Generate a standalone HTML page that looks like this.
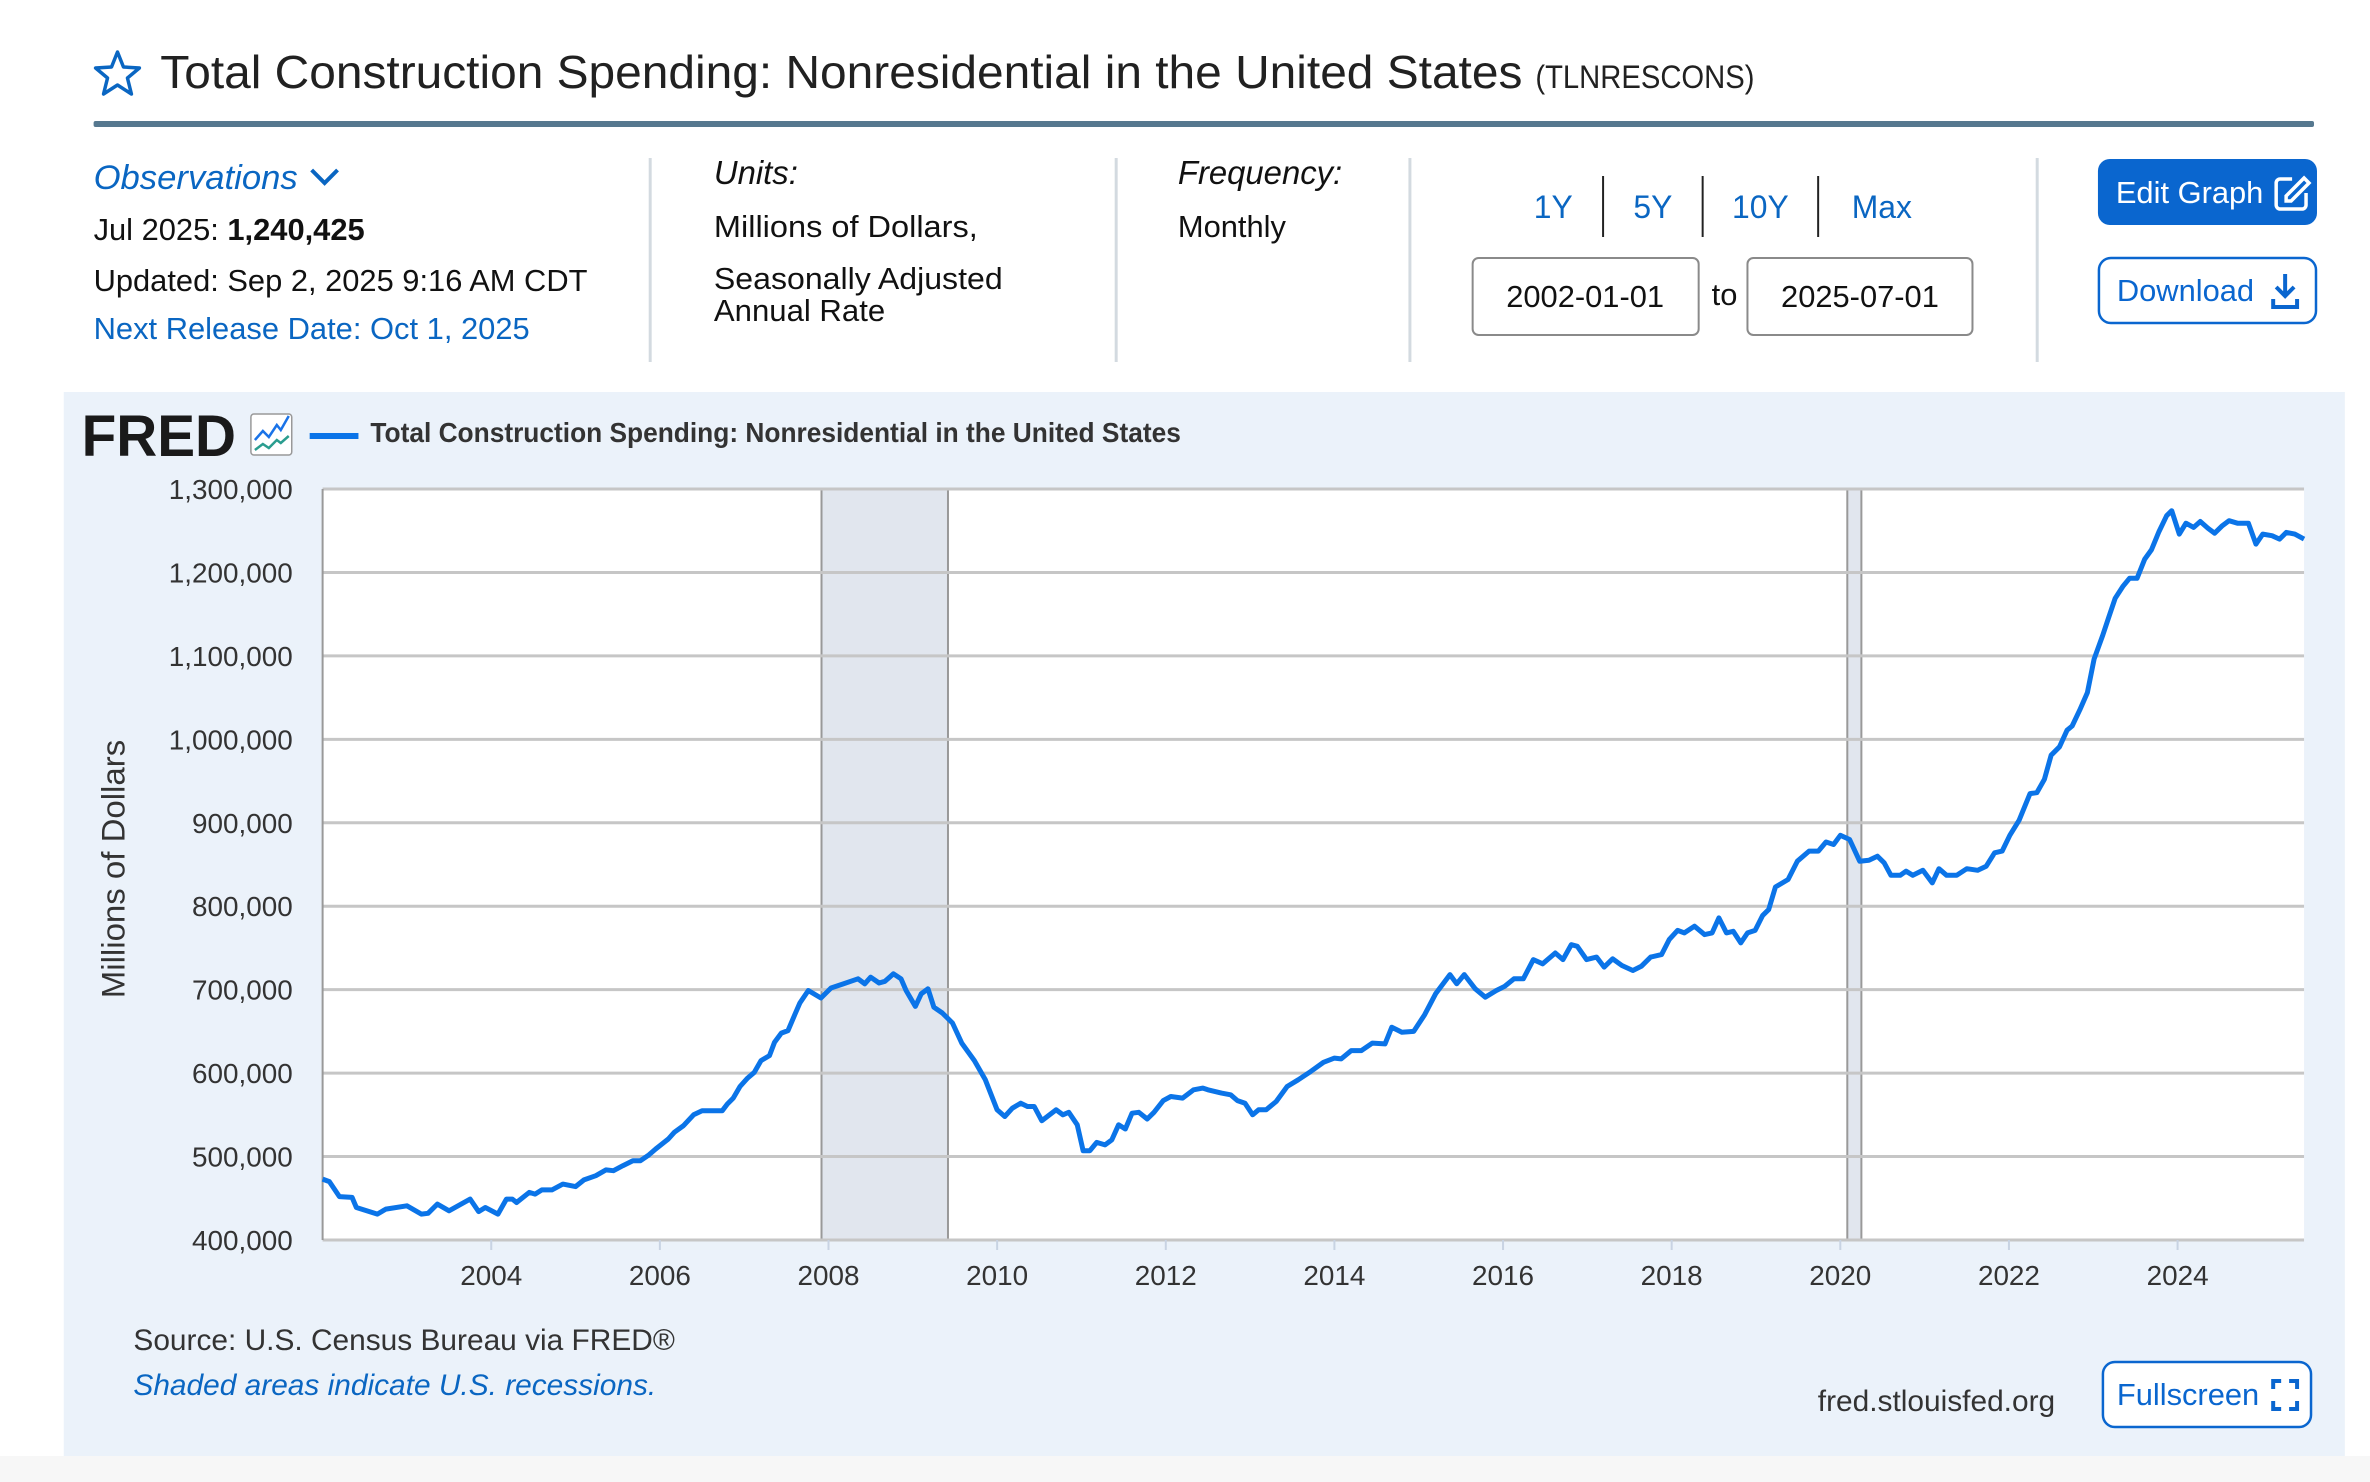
<!DOCTYPE html>
<html><head><meta charset="utf-8"><style>
html,body{margin:0;padding:0;background:#fff;}
svg{display:block;font-family:"Liberation Sans",sans-serif;}
</style></head><body>
<svg id="page" width="2370" height="1482" viewBox="0 0 2370 1482" xmlns="http://www.w3.org/2000/svg">
<rect x="0" y="0" width="2370" height="1482" fill="#fff"/>
<rect x="0" y="1456" width="2370" height="26" fill="#f7f7f7"/>
<g transform="scale(0.9957,1)">
<!-- header -->
<path d="M118,52 L124,67 L140,68 L128,78 L132,94 L118,85 L104,94 L108,78 L96,68 L112,67 Z" fill="none" stroke="#0a66c2" stroke-width="3.5" stroke-linejoin="round"/>
<text x="161" y="88" font-size="46" fill="#212121" textLength="1368" lengthAdjust="spacingAndGlyphs">Total Construction Spending: Nonresidential in the United States</text>
<text x="1542" y="88" font-size="32" fill="#212121" textLength="220" lengthAdjust="spacingAndGlyphs">(TLNRESCONS)</text>
<rect x="94" y="121" width="2230" height="6" rx="2" fill="#56788f"/>

<text x="94" y="189" font-size="34" font-style="italic" fill="#0a66c2" textLength="205" lengthAdjust="spacingAndGlyphs">Observations</text>
<path d="M313,170 L326,183 L339,170" fill="none" stroke="#0a66c2" stroke-width="4"/>
<text x="94" y="240" font-size="31" fill="#111">Jul 2025: <tspan font-weight="bold">1,240,425</tspan></text>
<text x="94" y="291" font-size="31" fill="#111" textLength="496" lengthAdjust="spacingAndGlyphs">Updated: Sep 2, 2025 9:16 AM CDT</text>
<text x="94" y="339" font-size="31" fill="#0a66c2" textLength="438" lengthAdjust="spacingAndGlyphs">Next Release Date: Oct 1, 2025</text>

<g stroke="#d3dae0" stroke-width="3">
<line x1="653" y1="158" x2="653" y2="362"/><line x1="1121" y1="158" x2="1121" y2="362"/><line x1="1416" y1="158" x2="1416" y2="362"/><line x1="2046" y1="158" x2="2046" y2="362"/>
</g>
<text x="717" y="184" font-size="33" font-style="italic" fill="#111">Units:</text>
<text x="717" y="237" font-size="31" fill="#111" textLength="265" lengthAdjust="spacingAndGlyphs">Millions of Dollars,</text>
<text x="717" y="289" font-size="31" fill="#111" textLength="290" lengthAdjust="spacingAndGlyphs">Seasonally Adjusted</text>
<text x="717" y="321" font-size="31" fill="#111" textLength="172" lengthAdjust="spacingAndGlyphs">Annual Rate</text>
<text x="1183" y="184" font-size="33" font-style="italic" fill="#111">Frequency:</text>
<text x="1183" y="237" font-size="31" fill="#111">Monthly</text>

<g font-size="32" fill="#0a66c2" text-anchor="middle">
<text x="1560" y="218">1Y</text>
<text x="1660" y="218">5Y</text>
<text x="1768" y="218">10Y</text>
<text x="1890" y="218">Max</text>
</g>
<g stroke="#222" stroke-width="2">
<line x1="1610" y1="176" x2="1610" y2="237"/><line x1="1710" y1="176" x2="1710" y2="237"/><line x1="1826" y1="176" x2="1826" y2="237"/>
</g>
<rect x="1479" y="258" width="227" height="77" rx="6" fill="#fff" stroke="#8a8a8a" stroke-width="2"/>
<text x="1592" y="307" font-size="31" fill="#111" text-anchor="middle">2002-01-01</text>
<text x="1732" y="305" font-size="31" fill="#111" text-anchor="middle">to</text>
<rect x="1755" y="258" width="226" height="77" rx="6" fill="#fff" stroke="#8a8a8a" stroke-width="2"/>
<text x="1868" y="307" font-size="31" fill="#111" text-anchor="middle">2025-07-01</text>

<g>
<rect x="2107" y="159" width="220" height="66" rx="12" fill="#0a66cf"/>
<text x="2125" y="203" font-size="31" fill="#fff">Edit Graph</text>
<path d="M2302,179 h-12 a4,4 0 0 0 -4,4 v22 a4,4 0 0 0 4,4 h22 a4,4 0 0 0 4,-4 v-12 M2296,196 l18,-18 l5,5 l-18,18 h-5 z" fill="none" stroke="#fff" stroke-width="3.5"/>
</g>
<g>
<rect x="2108" y="258" width="218" height="65" rx="12" fill="#fff" stroke="#0a66cf" stroke-width="2.5"/>
<text x="2126" y="301" font-size="31" fill="#0a66cf">Download</text>
<path d="M2295,274 v22 M2286,287 l9,9 l9,-9 M2283,299 v8 h24 v-8" fill="none" stroke="#0a66cf" stroke-width="4"/>
</g>

<!-- chart panel -->
<rect x="64" y="392" width="2291" height="1064" fill="#ebf2fa"/>
<text x="82" y="456" font-size="58" font-weight="bold" fill="#1a1a1a" textLength="155" lengthAdjust="spacingAndGlyphs">FRED</text>
<g>
<rect x="252" y="414" width="41" height="41" rx="3" fill="#fff" stroke="#999" stroke-width="1.5"/>
<path d="M256,440 l8,-9 l6,6 l8,-12 l4,5 l8,-14" fill="none" stroke="#1a73e8" stroke-width="2.5"/>
<path d="M256,450 l8,-6 l6,4 l8,-8 l4,3 l8,-7" fill="none" stroke="#2a9d8f" stroke-width="2.5"/>
</g>
<line x1="311" y1="436" x2="360" y2="436" stroke="#0b74e8" stroke-width="6"/>
<text x="372" y="442" font-size="28" font-weight="bold" fill="#333" textLength="814" lengthAdjust="spacingAndGlyphs">Total Construction Spending: Nonresidential in the United States</text>

<rect x="324" y="489" width="1990" height="751" fill="#fff"/>
<g id="recessions"></g>
<g id="grid"></g>
<g id="yticks" font-size="28" fill="#333" text-anchor="end"></g>
<g id="xticks" font-size="28" fill="#333" text-anchor="middle"></g>
<path id="series" fill="none" stroke="#0b74e8" stroke-width="5" stroke-linejoin="round"/>
<text transform="translate(125,869) rotate(-90)" font-size="33" fill="#333" text-anchor="middle">Millions of Dollars</text>

<text x="134" y="1350" font-size="30" fill="#333">Source: U.S. Census Bureau via FRED®</text>
<text x="134" y="1395" font-size="30" font-style="italic" fill="#0a66c2">Shaded areas indicate U.S. recessions.</text>
<text x="2064" y="1411" font-size="30" fill="#333" text-anchor="end">fred.stlouisfed.org</text>
<g>
<rect x="2112" y="1362" width="209" height="65" rx="12" fill="#fff" stroke="#0a66cf" stroke-width="2.5"/>
<text x="2126" y="1405" font-size="31" fill="#0a66cf">Fullscreen</text>
<path d="M2283,1389 v-8 h8 M2299,1381 h8 v8 M2307,1401 v8 h-8 M2291,1409 h-8 v-8" fill="none" stroke="#0a66cf" stroke-width="4"/>
</g>
</g>
</svg>
<script>
const years = [2002.0,2002.08,2002.2,2002.35,2002.4,2002.65,2002.75,2003.0,2003.17,2003.25,2003.36,2003.5,2003.75,2003.85,2003.93,2004.08,2004.18,2004.25,2004.3,2004.45,2004.52,2004.6,2004.72,2004.85,2005.0,2005.1,2005.24,2005.36,2005.45,2005.56,2005.68,2005.77,2005.87,2005.95,2006.1,2006.17,2006.28,2006.4,2006.5,2006.74,2006.8,2006.87,2006.95,2007.04,2007.12,2007.2,2007.3,2007.36,2007.44,2007.52,2007.6,2007.66,2007.76,2007.91,2008.03,2008.18,2008.35,2008.43,2008.5,2008.6,2008.67,2008.77,2008.86,2008.92,2009.03,2009.1,2009.18,2009.25,2009.35,2009.47,2009.58,2009.73,2009.86,2010.0,2010.09,2010.18,2010.28,2010.36,2010.44,2010.53,2010.7,2010.78,2010.85,2010.95,2011.02,2011.1,2011.18,2011.28,2011.36,2011.44,2011.52,2011.6,2011.68,2011.78,2011.86,2011.97,2012.06,2012.2,2012.33,2012.44,2012.5,2012.66,2012.77,2012.85,2012.94,2013.03,2013.1,2013.19,2013.31,2013.44,2013.57,2013.72,2013.87,2014.0,2014.08,2014.2,2014.32,2014.45,2014.6,2014.68,2014.8,2014.94,2015.07,2015.2,2015.37,2015.45,2015.54,2015.67,2015.79,2015.92,2016.02,2016.13,2016.24,2016.36,2016.47,2016.62,2016.71,2016.81,2016.88,2016.99,2017.11,2017.2,2017.3,2017.41,2017.54,2017.64,2017.75,2017.88,2017.97,2018.07,2018.15,2018.27,2018.39,2018.48,2018.56,2018.65,2018.73,2018.82,2018.9,2018.99,2019.08,2019.15,2019.23,2019.38,2019.49,2019.63,2019.74,2019.83,2019.92,2020.0,2020.11,2020.23,2020.34,2020.44,2020.52,2020.6,2020.71,2020.78,2020.86,2020.98,2021.09,2021.17,2021.26,2021.38,2021.5,2021.63,2021.73,2021.83,2021.92,2022.01,2022.12,2022.25,2022.33,2022.42,2022.5,2022.6,2022.69,2022.75,2022.84,2022.93,2023.01,2023.11,2023.18,2023.26,2023.35,2023.43,2023.52,2023.61,2023.69,2023.78,2023.87,2023.93,2024.02,2024.1,2024.19,2024.27,2024.36,2024.44,2024.53,2024.61,2024.71,2024.84,2024.93,2025.01,2025.12,2025.21,2025.29,2025.39,2025.5];
const values = [473,470,452,451,439,431,437,441,431,432,443,435,449,434,439,431,449,449,445,457,455,460,460,467,464,472,477,484,483,489,495,495,502,509,521,529,537,550,555,555,563,570,584,594,601,615,621,637,648,651,670,684,699,690,702,707,713,707,715,708,710,719,713,699,680,695,701,679,672,660,636,615,592,556,548,558,564,560,560,543,556,550,553,538,507,507,517,514,520,538,533,552,553,545,553,567,572,570,580,582,580,576,574,567,564,550,556,556,566,584,592,602,613,618,617,627,627,636,635,655,649,650,670,695,718,707,718,701,691,699,704,713,713,736,731,744,736,754,752,736,739,727,737,729,723,728,739,742,760,771,768,776,766,768,786,768,770,756,768,771,789,796,823,832,854,866,866,877,874,885,880,854,855,860,852,837,837,842,837,843,828,845,837,837,845,843,848,864,866,885,903,935,936,952,981,991,1011,1016,1035,1056,1096,1124,1145,1169,1183,1193,1193,1216,1227,1249,1268,1274,1246,1259,1254,1261,1253,1247,1256,1262,1259,1259,1234,1246,1244,1240,1248,1246,1240];
const yTicks = [400,500,600,700,800,900,1000,1100,1200,1300];
const xTicks = [2004,2006,2008,2010,2012,2014,2016,2018,2020,2022,2024];
const recessionStarts = [2007.917,2020.083];
const recessionEnds = [2009.417,2020.25];

const NS='http://www.w3.org/2000/svg';
const L=324,R=2314,T=489,B=1240,X0=2002.0,X1=2025.5,Y0=400,Y1=1300;
function xs(v){return L+(v-X0)/(X1-X0)*(R-L);}
function ys(v){return B-(v-Y0)/(Y1-Y0)*(B-T);}
function mk(tag,attrs,parent){const e=document.createElementNS(NS,tag);for(const k in attrs)e.setAttribute(k,attrs[k]);parent.appendChild(e);return e;}

const rg=document.getElementById('recessions');
for(let i=0;i<recessionStarts.length;i++){
  const a=xs(recessionStarts[i]),b=xs(recessionEnds[i]);
  const r=mk('rect',{x:a,y:T,width:b-a,height:B-T,fill:'#e1e6ee'},rg);
  
  
  const l1=mk('line',{x1:a,y1:T,x2:a,y2:B,stroke:'#999','stroke-width':2},rg);
  
  
  const l2=mk('line',{x1:b,y1:T,x2:b,y2:B,stroke:'#999','stroke-width':2},rg);
  
  
}
const gg=document.getElementById('grid');
const yt=document.getElementById('yticks');
yTicks.forEach(v=>{
  const g=mk('line',{x1:L,y1:ys(v),x2:R,y2:ys(v),stroke:'#c6c6c6','stroke-width':3},gg);
  
  
  const t=mk('text',{x:294,y:ys(v)+10},yt);
  
  
  t.textContent=v.toLocaleString('en-US')+',000';
});
const ax=mk('line',{x1:L,y1:T,x2:L,y2:B,stroke:'#999','stroke-width':2},gg);


const xt=document.getElementById('xticks');
xTicks.forEach(v=>{
  const tk=mk('line',{x1:xs(v),y1:B,x2:xs(v),y2:B+10,stroke:'#c8d3e3','stroke-width':2},xt);
  
  
  const t=mk('text',{x:xs(v),y:1285},xt);
  
  
  t.textContent=v;
});
let d='';
years.forEach((y,i)=>{d+=(i?'L':'M')+xs(y).toFixed(1)+','+ys(values[i]).toFixed(1);});
document.getElementById('series').setAttribute('d',d);
</script>
</body></html>
